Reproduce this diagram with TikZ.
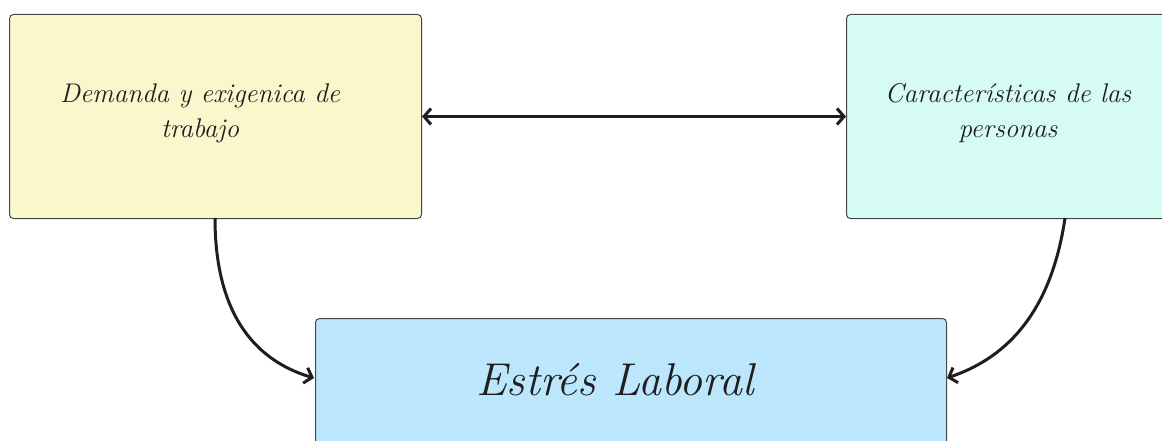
\documentclass[tikz,border=0pt]{standalone}
\usetikzlibrary{arrows.meta}
\definecolor{boxyellow}{RGB}{250,247,204}
\definecolor{boxmint}{RGB}{214,251,243}
\definecolor{boxblue}{RGB}{188,230,252}
\definecolor{edgegray}{RGB}{70,70,70}
\definecolor{ink}{RGB}{30,30,30}
\tikzset{
  card/.style={draw=edgegray, line width=1pt, rounded corners=4pt, inner sep=0pt, align=center, text=ink},
  link/.style={draw=ink, line width=3pt, -{Straight Barb[length=7pt,width=16pt,line width=3pt]}},
  hand/.style={font=\itshape\fontsize{27}{35}\selectfont},
  bighand/.style={font=\itshape\fontsize{46}{50}\selectfont}
}
\begin{document}
\begin{tikzpicture}[x=1pt,y=-1pt]
  \useasboundingbox (0,0) rectangle (1162,441);
  \clip (0,0) rectangle (1162,441);
  % the three boxes
  \node[card, fill=boxyellow, minimum width=412pt, minimum height=204pt, anchor=north west] (demand) at (9,14) {};
  \node[card, fill=boxmint, minimum width=438pt, minimum height=204pt, anchor=north west] (people) at (846,14) {};
  \node[card, fill=boxblue, minimum width=631pt, minimum height=160pt, anchor=north west] (stress) at (315,318) {};
  % labels
  \node[hand, text=ink, align=center] (demandtext) at (200,113) {Demanda y exigenica de\\trabajo};
  \node[hand, text=ink, align=center] (peopletext) at (1008,113) {Características de las\\personas};
  \node[bighand, text=ink] (stresstext) at (615,380) {Estrés Laboral};
  % connectors
  \coordinate (demandout) at (215,218);
  \coordinate (peopleout) at (1065,218);
  \coordinate (stressin) at (314,378);
  \coordinate (stressinr) at (947,378);
  \draw[link, {Straight Barb[length=7pt,width=16pt,line width=3pt]}-{Straight Barb[length=7pt,width=16pt,line width=3pt]}] (demand.east) -- (people.west);
  \draw[link] (demandout) .. controls (215,320) and (260,362) .. (stressin);
  \draw[link] (peopleout) .. controls (1050,320) and (1000,360) .. (stressinr);
\end{tikzpicture}
\end{document}
